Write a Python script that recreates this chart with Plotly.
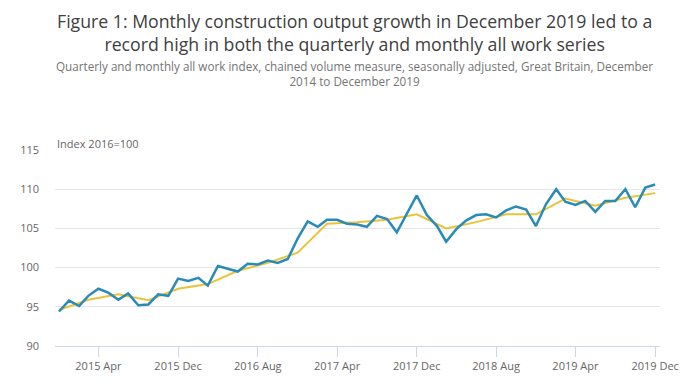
import plotly.graph_objects as go
import pandas as pd

months = pd.date_range("2014-12-01", "2019-12-01", freq="MS")
monthly = [94.4, 95.8, 95.1, 96.4, 97.3, 96.8, 95.9, 96.7, 95.2, 95.3, 96.6, 96.4,
           98.6, 98.3, 98.7, 97.7, 100.2, 99.9, 99.5, 100.5, 100.4, 100.9, 100.6, 101.1,
           103.7, 105.9, 105.2, 106.1, 106.1, 105.6, 105.5, 105.2, 106.6, 106.2, 104.5, 106.9,
           109.2, 106.7, 105.3, 103.3, 104.9, 106.0, 106.7, 106.8, 106.4, 107.3, 107.8, 107.4,
           105.3, 108.1, 110.0, 108.4, 108.0, 108.5, 107.1, 108.5, 108.5, 110.0, 107.7, 110.2,
           110.6]
quarters = pd.date_range("2014-12-01", "2019-12-01", freq="3MS")
quarterly = [94.6, 95.9, 96.6, 95.85, 97.3, 97.9, 99.6, 100.6, 101.9, 105.6, 105.8, 106.1,
             106.8, 105.0, 105.8, 106.8, 106.8, 108.8, 107.9, 108.9, 109.5]
tick_vals = ["2015-04-01", "2015-12-01", "2016-08-01", "2017-04-01", "2017-12-01",
             "2018-08-01", "2019-04-01", "2019-12-01"]
tick_text = ["2015 Apr", "2015 Dec", "2016 Aug", "2017 Apr", "2017 Dec",
             "2018 Aug", "2019 Apr", "2019 Dec"]
y_ticks = [90, 95, 100, 105, 110, 115]

BLUE = "#2A8AB8"
YELLOW = "#EBC33A"
FONT = "Open Sans"

# page has an 8px body margin; figure sized to fit the 696x385 window
W, H = 688, 377
L, R, T, B = 35, 36, 142, 34
OFF = 8


def py(page_y):
    fy = page_y - OFF
    return (H - B - fy) / (H - T - B)


def px(page_x):
    fx = page_x - OFF
    return (fx - L) / (W - L - R)


fig = go.Figure()
fig.add_trace(go.Scatter(x=quarters, y=quarterly, mode="lines", name="Quarterly",
                         line=dict(color=YELLOW, width=2)))
fig.add_trace(go.Scatter(x=months, y=monthly, mode="lines", name="Monthly",
                         line=dict(color=BLUE, width=2.5)))

fig.update_layout(
    width=W, height=H,
    margin=dict(l=L, r=R, t=T, b=B),
    paper_bgcolor="white", plot_bgcolor="white",
    showlegend=False,
    font=dict(family=FONT, color="#666666", size=11),
    xaxis=dict(range=["2014-11-19", "2019-12-16"], tickvals=tick_vals, ticktext=tick_text,
               showgrid=False, zeroline=False, showline=True, linecolor="#ccd6eb", linewidth=1,
               ticks="outside", ticklen=10, tickcolor="#ccd6eb",
               tickfont=dict(size=11, color="#666666")),
    yaxis=dict(range=[90, 115], tickvals=y_ticks, showgrid=True, gridcolor="#e6e6e6",
               zeroline=False, showline=False, ticks="", ticklabelstandoff=15,
               tickfont=dict(size=11, color="#666666")),
    annotations=[
        dict(text="Figure 1: Monthly construction output growth in December 2019 led to a<br>record high in both the quarterly and monthly all work series",
             xref="paper", yref="paper", x=px(348), y=py(29), xanchor="center", yanchor="middle",
             showarrow=False, font=dict(family=FONT, size=17.7, color="#404040")),
        dict(text="Quarterly and monthly all work index, chained volume measure, seasonally adjusted, Great Britain, December<br>2014 to December 2019",
             xref="paper", yref="paper", x=px(348), y=py(72), xanchor="center", yanchor="middle",
             showarrow=False, font=dict(family=FONT, size=11.7, color="#757575")),
        dict(text="Index 2016=100", xref="paper", yref="paper", x=0, y=py(143),
             xanchor="left", yanchor="middle", showarrow=False,
             font=dict(family=FONT, size=11, color="#666666")),
    ],
)
fig.write_html("out.html")
